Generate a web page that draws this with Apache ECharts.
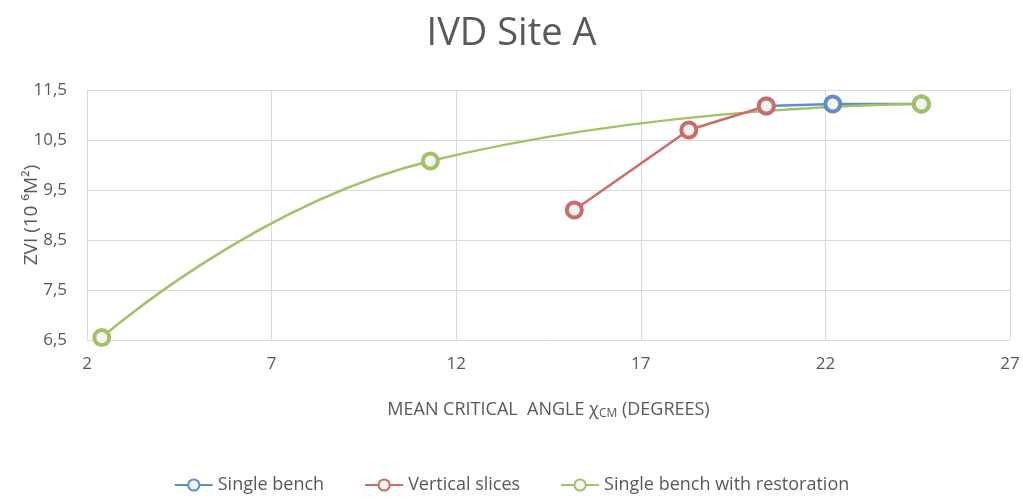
<!DOCTYPE html>
<html>
<head>
<meta charset="utf-8">
<script src="https://cdn.jsdelivr.net/npm/echarts@6/dist/echarts.min.js"></script>
<style>
    html, body { margin: 0; padding: 0; background: #fff; }
    #chart { width: 1023px; height: 503px; }
</style>
</head>
<body>
<div id="chart"></div>
<script>
    // data: [angle, zvi]
    var singleBench = [[20.4, 11.18], [22.2, 11.22], [24.6, 11.22]];
    var verticalSlices = [[15.2, 9.1], [18.3, 10.7], [20.4, 11.18]];
    var benchRestoration = [[2.4, 6.55], [11.3, 10.08], [24.6, 11.22]];
    var seriesNames = ['Single bench', 'Vertical slices', 'Single bench with restoration'];
    var colors = ['#5f8fcb', '#cc6b68', '#a3c265'];

    var chart = echarts.init(document.getElementById('chart'));
    var font = '"Open Sans", sans-serif';

    function makeSeries(name, data, color, smooth) {
        return {
            name: name,
            type: 'line',
            data: data,
            smooth: smooth,
            symbol: 'circle',
            symbolSize: 15,
            lineStyle: { color: color, width: 2.5 },
            itemStyle: { color: '#f4f4f4', borderColor: color, borderWidth: 4 }
        };
    }

    var option = {
        backgroundColor: '#fff',
        animation: false,
        color: colors,
        title: {
            text: 'IVD Site A',
            left: 'center',
            top: 10,
            textStyle: { fontFamily: font, fontSize: 38, fontWeight: 'normal', color: '#595959' }
        },
        grid: { left: 87, right: 13, top: 90, bottom: 163, outerBoundsMode: 'none' },
        legend: {
            bottom: 4,
            left: 'center',
            itemWidth: 38,
            itemHeight: 14,
            itemGap: 40,
            textStyle: { fontFamily: font, fontSize: 18, color: '#595959' },
            data: seriesNames
        },
        xAxis: {
            type: 'value',
            min: 2,
            max: 27,
            interval: 5,
            name: '{a|MEAN CRITICAL  ANGLE χ}{s|CM}{a| (DEGREES)}',
            nameLocation: 'middle',
            nameGap: 60,
            nameMoveOverlap: false,
            nameTextStyle: {
                rich: {
                    a: { fontFamily: font, fontSize: 18, color: '#595959' },
                    s: { fontFamily: font, fontSize: 12, color: '#595959', verticalAlign: 'bottom', padding: [8, 0, 0, 0] }
                }
            },
            axisLine: { show: false },
            axisTick: { show: false },
            axisLabel: { fontFamily: font, fontSize: 17, color: '#595959', margin: 16 },
            splitLine: { lineStyle: { color: '#d9d9d9' } }
        },
        yAxis: {
            type: 'value',
            min: 6.5,
            max: 11.5,
            interval: 1,
            name: 'ZVI (10 ⁶M²)',
            nameLocation: 'middle',
            nameRotate: 90,
            nameGap: 46,
            nameMoveOverlap: false,
            nameTextStyle: { fontFamily: font, fontSize: 19, color: '#595959' },
            axisLine: { show: false },
            axisTick: { show: false },
            axisLabel: {
                fontFamily: font, fontSize: 17, color: '#595959', margin: 20,
                formatter: function (v) { return String(v).replace('.', ','); }
            },
            splitLine: { lineStyle: { color: '#d9d9d9' } }
        },
        series: [
            makeSeries(seriesNames[0], singleBench, colors[0], false),
            makeSeries(seriesNames[2], benchRestoration, colors[2], true),
            makeSeries(seriesNames[1], verticalSlices, colors[1], false)
        ]
    };
    chart.setOption(option);
</script>
</body>
</html>
